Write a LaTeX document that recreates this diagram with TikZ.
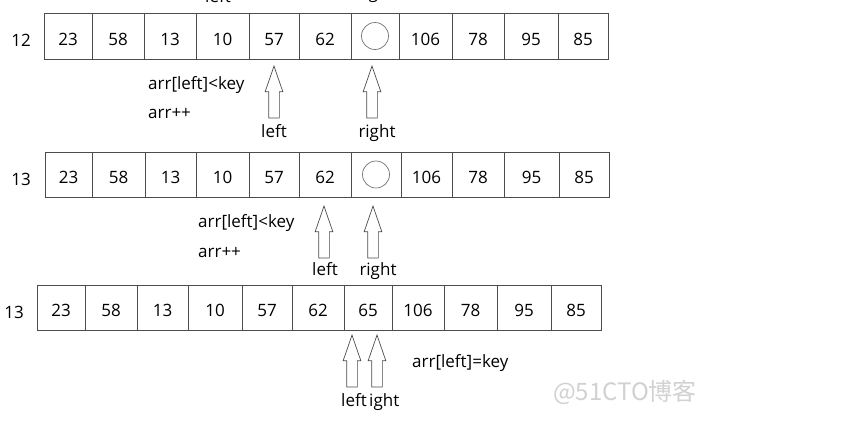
\documentclass[tikz,border=0pt]{standalone}
\usepackage{fontspec}
\setmainfont{Open Sans}
\newfontfamily\cjkfont{Noto Sans CJK SC}
\usetikzlibrary{positioning,shapes.arrows}

\begin{document}
\begin{tikzpicture}[x=1pt,y=-1pt,
  cell/.style={draw=black!70,line width=0.8pt,minimum height=45,inner sep=0,text height=18pt,text depth=0pt,font=\fontsize{17}{18}\selectfont},
  txt/.style={inner sep=0,font=\fontsize{17}{18}\selectfont},
  ptr/.style={single arrow,draw=black!70,line width=0.7pt,shape border rotate=90,minimum height=52,minimum width=17,single arrow head extend=3.5pt,single arrow tip angle=38,inner sep=5pt},
  hole/.style={circle,draw=black!55,line width=0.7pt,minimum size=27,inner sep=0}
]
\useasboundingbox (0,0) rectangle (849,426);
% step 12
\node[txt,anchor=base] (t1) at (218,2) {left};
\node[txt,anchor=base] (t2) at (376,-2) {right};
\node[txt,anchor=base] (k1) at (21,46) {12};
\foreach \a/\b/\v [count=\i] in {44/92/23,92/144/58,144/196/13,196/249/10,249/299/57,299/351/62,351/399/{},399/452/106,452/504/78,504/558/95,558/608/85}
  \node[cell,minimum width=\b-\a,minimum height=46] (a\i) at ({(\a+\b)/2},36) {\v};
\node[hole] (o1) at (a7) {};
\node[ptr,anchor=tip] (pl1) at (274,65) {};
\node[ptr,anchor=tip] (pr1) at (372,65) {};
\node[txt,anchor=base] (l1) at (274,137) {left};
\node[txt,anchor=base] (r1) at (377,137) {right};
\node[txt,anchor=base west] (c1) at (148,89) {arr[left]<key};
\node[txt,anchor=base west] (d1) at (148,118) {arr++};
% step 13
\node[txt,anchor=base] (k2) at (21,185) {13};
\foreach \a/\b/\v [count=\i] in {45/92/23,92/145/58,145/196/13,196/249/10,249/299/57,299/351/62,351/401/{},401/452/106,452/504/78,504/559/95,559/609/85}
  \node[cell,minimum width=\b-\a] (b\i) at ({(\a+\b)/2},174.5) {\v};
\node[hole] (o2) at (b7) {};
\node[ptr,anchor=tip] (pl2) at (324,205) {};
\node[ptr,anchor=tip] (pr2) at (373,205) {};
\node[txt,anchor=base] (l2) at (325,275) {left};
\node[txt,anchor=base] (r2) at (378,275) {right};
\node[txt,anchor=base west] (c2) at (198,227) {arr[left]<key};
\node[txt,anchor=base west] (d2) at (198,257) {arr++};
% key placed
\node[txt,anchor=base] (k3) at (14,318) {13};
\foreach \a/\b/\v [count=\i] in {37/85/23,85/137/58,137/188/13,188/242/10,242/292/57,292/344/62,344/392/65,392/444/106,444/497/78,497/551/95,551/601/85}
  \node[cell,minimum width=\b-\a] (e\i) at ({(\a+\b)/2},307.5) {\v};
\node[ptr,anchor=tip] (pl3) at (352,334) {};
\node[ptr,anchor=tip] (pr3) at (377,334) {};
\node[txt,anchor=base east] (l3) at (367,406) {left};
\node[txt,anchor=base west] (r3) at (369,406) {ight};
\node[txt,anchor=base west] (c3) at (412,367) {arr[left]=key};
\node[anchor=base west,inner sep=0,text=black!18,font=\cjkfont\fontsize{24}{26}\selectfont] (wm) at (553,400) {@51CTO博客};
\end{tikzpicture}
\end{document}
